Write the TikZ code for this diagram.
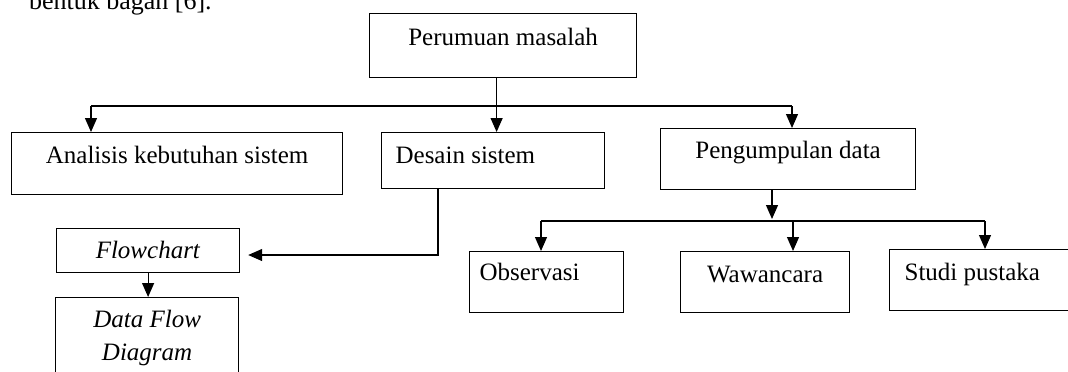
\documentclass[tikz,border=0pt]{standalone}
\usepackage{fontspec}
\setmainfont{Liberation Serif}
\usetikzlibrary{arrows.meta,positioning}

\tikzset{
  box/.style={draw, line width=0.6pt, inner sep=0pt, anchor=north west,
    font=\fontsize{12.5}{15}\selectfont},
  line/.style={line width=0.6pt},
  link/.style={line width=0.6pt, -{Triangle[length=7pt,width=6pt]}}
}

\begin{document}
\begin{tikzpicture}[x=0.5pt, y=-0.5pt]

    \clip (0,0) rectangle (1068,371);

    \node[anchor=base west, font=\fontsize{13}{15}\selectfont] (lead) at (22,9) {bentuk bagan [6].};

    \node[box, minimum width=133.5pt,
      text height=16pt, text depth=16pt] (perumuan) at (369,13) {Perumuan masalah};

    \node[box, minimum width=165.5pt,
      text height=15.5pt, text depth=15.5pt] (analisis) at (11,132) {Analisis kebutuhan sistem};

    \node[box, inner xsep=7pt, text width=97.5pt, align=flush left,
      text height=15.5pt, text depth=12.5pt] (desain) at (381,132) {Desain sistem};

    \node[box, minimum width=127.5pt,
      text height=15pt, text depth=15.5pt] (kumpul) at (660,128) {Pengumpulan data};

    \node[box, minimum width=91.5pt,
      text height=15pt, text depth=7pt] (flowchart) at (56,228) {\textit{Flowchart}};

    \node[box, text width=91.5pt, align=flush center,
      font=\fontsize{12.5}{16.5}\selectfont\itshape,
      text height=15pt, text depth=40pt] (dfd) at (55,297) {Data Flow\\ Diagram};

    \node[box, inner xsep=5pt, text width=67pt, align=flush left,
      text height=14.5pt, text depth=16pt] (observasi) at (469,251) {Observasi};

    \node[box, minimum width=84.5pt,
      text height=15.5pt, text depth=15pt] (wawancara) at (680,251) {Wawancara};

    \node[box, inner xsep=7.5pt, text width=85pt, align=flush left,
      text height=15.5pt, text depth=15pt] (studi) at (889,249) {Studi pustaka};

    % bend and fork points
    \coordinate (barL) at (91,106);
    \coordinate (barR) at (792,106);
    \coordinate (bendD) at (438,255);
    \coordinate (fork) at (772,221);
    \coordinate (forkL) at (541,221);
    \coordinate (forkM) at (793,221);
    \coordinate (forkR) at (985,221);

    \draw[link] ([xshift=-3.25pt]perumuan.south) -- ([xshift=-3.25pt]perumuan.south |- desain.north);
    \draw[line] (barL) -- (barR);
    \draw[link] (barL) -- (barL |- analisis.north);
    \draw[link] (barR) -- (barR |- kumpul.north);

    \draw[link] (desain.south -| bendD) -- (bendD) -- ([xshift=4pt]flowchart.east |- bendD);
    \draw[link] (flowchart.south) -- (flowchart.south |- dfd.north);

    \draw[link] (kumpul.south -| fork) -- ([yshift=1pt]fork);
    \draw[line] (forkL) -- (forkR);
    \draw[link] (forkL) -- (forkL |- observasi.north);
    \draw[link] (forkM) -- (forkM |- wawancara.north);
    \draw[link] (forkR) -- (forkR |- studi.north);
\end{tikzpicture}
\end{document}
